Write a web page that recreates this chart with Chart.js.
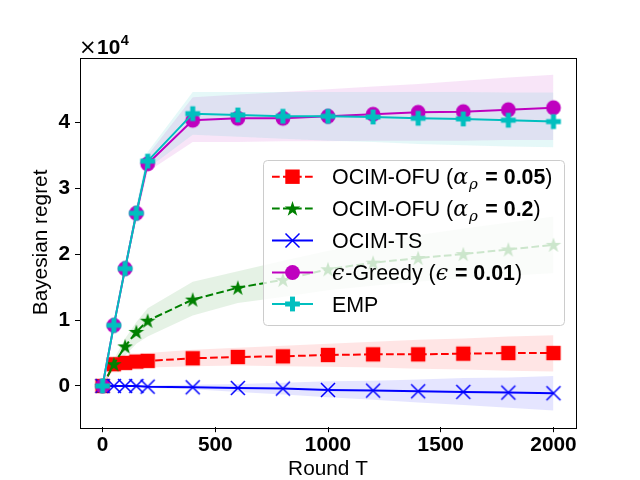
<!DOCTYPE html>
<html>
<head>
<meta charset="utf-8">
<script src="https://cdn.jsdelivr.net/npm/chart.js@4.4.1/dist/chart.umd.min.js"></script>
<style>html,body{margin:0;padding:0;background:#fff;}canvas{display:block;}</style>
</head>
<body>
<canvas id="c" width="640" height="480"></canvas>
<script>
// ---- data (regret values in units of 10^4) ----
const rounds = [0, 50, 100, 150, 200, 400, 600, 800, 1000, 1200, 1400, 1600, 1800, 2000];

const ofu005Mean  = [0, 0.33, 0.35, 0.37, 0.38, 0.42, 0.44, 0.45, 0.47, 0.48, 0.48, 0.49, 0.50, 0.50];
const ofu005Upper = [0, 0.42, 0.45, 0.48, 0.50, 0.55, 0.58, 0.61, 0.64, 0.67, 0.70, 0.72, 0.75, 0.77];
const ofu005Lower = [0, 0.25, 0.26, 0.27, 0.28, 0.30, 0.31, 0.30, 0.29, 0.28, 0.26, 0.25, 0.23, 0.22];

const ofu02Mean  = [0, 0.33, 0.60, 0.82, 0.99, 1.31, 1.49, 1.61, 1.77, 1.87, 1.94, 2.00, 2.07, 2.14];
const ofu02Upper = [0, 0.40, 0.72, 0.97, 1.18, 1.58, 1.74, 1.90, 2.05, 2.17, 2.29, 2.39, 2.48, 2.57];
const ofu02Lower = [0, 0.26, 0.46, 0.64, 0.75, 1.07, 1.26, 1.35, 1.45, 1.52, 1.58, 1.63, 1.67, 1.71];

const tsMean  = [0, 0.00, 0.00, 0.00, -0.01, -0.02, -0.03, -0.04, -0.06, -0.07, -0.08, -0.09, -0.10, -0.11];
const tsUpper = [0, 0.01, 0.01, 0.01, 0.01, 0.02, 0.03, 0.05, 0.07, 0.08, 0.10, 0.12, 0.13, 0.15];
const tsLower = [0, -0.01, -0.01, -0.02, -0.03, -0.05, -0.09, -0.13, -0.17, -0.21, -0.25, -0.29, -0.33, -0.37];

const greedyMean  = [0, 0.92, 1.78, 2.62, 3.37, 4.03, 4.06, 4.06, 4.09, 4.12, 4.15, 4.16, 4.19, 4.22];
const greedyUpper = [0, 0.97, 1.86, 2.72, 3.50, 4.38, 4.42, 4.46, 4.50, 4.54, 4.58, 4.63, 4.68, 4.72];
const greedyLower = [0, 0.87, 1.70, 2.52, 3.25, 3.70, 3.70, 3.71, 3.71, 3.72, 3.72, 3.72, 3.73, 3.73];

const empMean  = [0, 0.92, 1.78, 2.62, 3.41, 4.13, 4.11, 4.09, 4.09, 4.08, 4.06, 4.05, 4.03, 4.01];
const empUpper = [0, 0.97, 1.86, 2.74, 3.55, 4.46, 4.46, 4.46, 4.46, 4.46, 4.46, 4.46, 4.45, 4.45];
const empLower = [0, 0.87, 1.70, 2.52, 3.30, 3.81, 3.78, 3.75, 3.72, 3.70, 3.67, 3.65, 3.63, 3.62];

const xTickValues = [0, 500, 1000, 1500, 2000];
const yTickValues = [0, 1, 2, 3, 4];
const xTitle = 'Round T';
const yTitle = 'Bayesian regret';

// ---- styles ----
const SANS = '"Liberation Sans", Arial, Helvetica, sans-serif';
const SERIF = '"DejaVu Serif", "Liberation Serif", serif';

const series = [
  {key: 'ofu005', mean: ofu005Mean, upper: ofu005Upper, lower: ofu005Lower, color: '#ff0000', band: 'rgba(255,0,0,0.1)', marker: 'square', dash: [7.7, 3.3]},
  {key: 'ofu02',  mean: ofu02Mean,  upper: ofu02Upper,  lower: ofu02Lower,  color: '#008000', band: 'rgba(0,128,0,0.1)', marker: 'star', dash: [7.7, 3.3]},
  {key: 'ts',     mean: tsMean,     upper: tsUpper,     lower: tsLower,     color: '#0000ff', band: 'rgba(0,0,255,0.1)', marker: 'x', dash: []},
  {key: 'greedy', mean: greedyMean, upper: greedyUpper, lower: greedyLower, color: '#bf00bf', band: 'rgba(191,0,191,0.1)', marker: 'circle', dash: []},
  {key: 'emp',    mean: empMean,    upper: empUpper,    lower: empLower,    color: '#00bfbf', band: 'rgba(0,191,191,0.1)', marker: 'plus', dash: []}
];

// legend labels as rich text runs
const legendRuns = [
  [{t: 'OCIM-OFU (', f: 'n'}, {t: 'α', f: 'm'}, {t: 'ρ', f: 'sub'}, {t: ' = 0.05', f: 'b'}, {t: ')', f: 'n'}],
  [{t: 'OCIM-OFU (', f: 'n'}, {t: 'α', f: 'm'}, {t: 'ρ', f: 'sub'}, {t: ' = 0.2', f: 'b'}, {t: ')', f: 'n'}],
  [{t: 'OCIM-TS', f: 'n'}],
  [{t: 'ϵ', f: 'm'}, {t: '-Greedy (', f: 'n'}, {t: 'ϵ', f: 'm'}, {t: ' = 0.01', f: 'b'}, {t: ')', f: 'n'}],
  [{t: 'EMP', f: 'n'}]
];

function drawMarker(ctx, kind, color, cx, cy) {
  ctx.save();
  ctx.fillStyle = color;
  ctx.strokeStyle = color;
  ctx.setLineDash([]);
  if (kind === 'square') {
    ctx.fillRect(cx - 7.2, cy - 7.2, 14.4, 14.4);
  } else if (kind === 'circle') {
    ctx.beginPath(); ctx.arc(cx, cy, 7.4, 0, Math.PI * 2); ctx.fill();
  } else if (kind === 'x') {
    ctx.lineWidth = 1.5;
    ctx.beginPath();
    ctx.moveTo(cx - 7, cy - 7); ctx.lineTo(cx + 7, cy + 7);
    ctx.moveTo(cx + 7, cy - 7); ctx.lineTo(cx - 7, cy + 7);
    ctx.stroke();
  } else if (kind === 'star') {
    const R = 8.2, r = R * 0.381966;
    ctx.beginPath();
    for (let i = 0; i < 10; i++) {
      const rad = (i % 2 === 0) ? R : r;
      const a = -Math.PI / 2 + i * Math.PI / 5;
      const px = cx + rad * Math.cos(a), py = cy + 0.6 + rad * Math.sin(a);
      if (i === 0) ctx.moveTo(px, py); else ctx.lineTo(px, py);
    }
    ctx.closePath();
    ctx.fill();
  } else if (kind === 'plus') {
    const h = 7.4, t = 2.5;
    ctx.fillRect(cx - h, cy - t, 2 * h, 2 * t);
    ctx.fillRect(cx - t, cy - h, 2 * t, 2 * h);
  }
  ctx.restore();
}

function markerCanvas(kind, color) {
  const c = document.createElement('canvas');
  c.width = 20; c.height = 20;
  drawMarker(c.getContext('2d'), kind, color, 10, 10);
  return c;
}

const toPoints = arr => rounds.map((x, i) => ({x: x, y: arr[i]}));

const datasets = [];
series.forEach((s, idx) => {
  datasets.push({
    label: s.key + '-lower', data: toPoints(s.lower),
    borderWidth: 0, borderColor: 'rgba(0,0,0,0)', pointRadius: 0, fill: false,
    order: 20 + (4 - idx)
  });
  datasets.push({
    label: s.key + '-upper', data: toPoints(s.upper),
    borderWidth: 0, borderColor: 'rgba(0,0,0,0)', pointRadius: 0,
    fill: '-1', backgroundColor: s.band,
    order: 20 + (4 - idx)
  });
});
series.forEach((s, idx) => {
  datasets.push({
    label: s.key, data: toPoints(s.mean),
    borderColor: s.color, borderWidth: 2, borderDash: s.dash,
    pointStyle: markerCanvas(s.marker, s.color), pointRadius: 7,
    backgroundColor: s.color, fill: false, tension: 0,
    order: 4 - idx
  });
});

const framePlugin = {
  id: 'frameAndExtras',
  afterDatasetsDraw(chart) {
    const {ctx, chartArea: a} = chart;
    ctx.save();
    ctx.strokeStyle = '#000';
    ctx.lineWidth = 1;
    ctx.strokeRect(Math.round(a.left) + 0.5, Math.round(a.top) + 0.5, Math.round(a.right - a.left), Math.round(a.bottom - a.top));
    // offset text ×10^4
    ctx.fillStyle = '#000';
    ctx.textBaseline = 'alphabetic';
    ctx.textAlign = 'left';
    let x = a.left - 1;
    const base = a.top - 3.5;
    ctx.font = '21px ' + '"DejaVu Sans", sans-serif';
    ctx.fillText('×', x, base);
    x += ctx.measureText('×').width + 0.5;
    ctx.font = 'bold 20.8px ' + SANS;
    ctx.fillText('10', x, base);
    x += ctx.measureText('10').width + 0.5;
    ctx.font = 'bold 14.5px ' + SANS;
    ctx.fillText('4', x, base - 9);
    ctx.restore();
  },
  afterDraw(chart) {
    const {ctx} = chart;
    ctx.save();
    // legend box
    const lx = 263.5, ly = 160.5, lw = 301, lh = 165, rr = 4;
    ctx.beginPath();
    ctx.moveTo(lx + rr, ly);
    ctx.lineTo(lx + lw - rr, ly); ctx.quadraticCurveTo(lx + lw, ly, lx + lw, ly + rr);
    ctx.lineTo(lx + lw, ly + lh - rr); ctx.quadraticCurveTo(lx + lw, ly + lh, lx + lw - rr, ly + lh);
    ctx.lineTo(lx + rr, ly + lh); ctx.quadraticCurveTo(lx, ly + lh, lx, ly + lh - rr);
    ctx.lineTo(lx, ly + rr); ctx.quadraticCurveTo(lx, ly, lx + rr, ly);
    ctx.closePath();
    ctx.fillStyle = 'rgba(255,255,255,0.8)';
    ctx.fill();
    ctx.strokeStyle = '#cccccc';
    ctx.lineWidth = 1;
    ctx.stroke();

    const rowY = [176.7, 208.5, 240.5, 272.5, 304];
    series.forEach((s, i) => {
      const y = rowY[i];
      ctx.save();
      ctx.strokeStyle = s.color;
      ctx.lineWidth = 2;
      ctx.setLineDash(s.dash);
      ctx.beginPath(); ctx.moveTo(272, y); ctx.lineTo(313, y); ctx.stroke();
      ctx.restore();
      drawMarker(ctx, s.marker, s.color, 292.5, y);
      // label
      let x = 332;
      const base = y + 7.5;
      ctx.fillStyle = '#000';
      ctx.textAlign = 'left';
      ctx.textBaseline = 'alphabetic';
      legendRuns[i].forEach(run => {
        let font, dy = 0, extra = 0;
        if (run.f === 'n') font = '21.4px ' + SANS;
        else if (run.f === 'b') { font = 'bold 21.4px ' + SANS; }
        else if (run.f === 'm') { font = 'italic 22px ' + SERIF; extra = 1; }
        else if (run.f === 'sub') { font = 'italic 15px ' + SERIF; dy = 4.5; extra = 1.5; }
        ctx.font = font;
        ctx.fillText(run.t, x, base + dy);
        x += ctx.measureText(run.t).width + extra;
      });
    });
    ctx.restore();
  }
};

new Chart(document.getElementById('c'), {
  type: 'line',
  data: {datasets: datasets},
  plugins: [framePlugin],
  options: {
    responsive: false,
    animation: false,
    events: [],
    layout: {padding: {left: 0, right: 64, top: 57.6, bottom: 0}},
    plugins: {legend: {display: false}, tooltip: {enabled: false}, title: {display: false}},
    scales: {
      x: {
        type: 'linear', min: -100, max: 2100,
        afterFit(scale) { scale.height = 52.8; },
        afterBuildTicks(scale) { scale.ticks = xTickValues.map(v => ({value: v})); },
        grid: {drawOnChartArea: false, drawTicks: true, tickLength: 5, tickWidth: 1, tickColor: '#000'},
        border: {display: false},
        ticks: {color: '#000', padding: 1, maxRotation: 0, font: {family: SANS, size: 20.8, weight: 'bold'}, callback: v => String(v)},
        title: {display: true, text: xTitle, color: '#000', font: {family: SANS, size: 20.8, lineHeight: 1}, padding: {top: 0, bottom: 0}}
      },
      y: {
        type: 'linear', min: -0.625, max: 4.98,
        afterFit(scale) { scale.width = 80; },
        afterBuildTicks(scale) { scale.ticks = yTickValues.map(v => ({value: v})); },
        grid: {drawOnChartArea: false, drawTicks: true, tickLength: 5, tickWidth: 1, tickColor: '#000'},
        border: {display: false},
        ticks: {color: '#000', padding: 5, font: {family: SANS, size: 20.8, weight: 'bold'}, callback: v => String(v)},
        title: {display: true, text: yTitle, color: '#000', font: {family: SANS, size: 20.8, lineHeight: 1}, padding: {top: 31, bottom: 0}}
      }
    }
  }
});
</script>
</body>
</html>
